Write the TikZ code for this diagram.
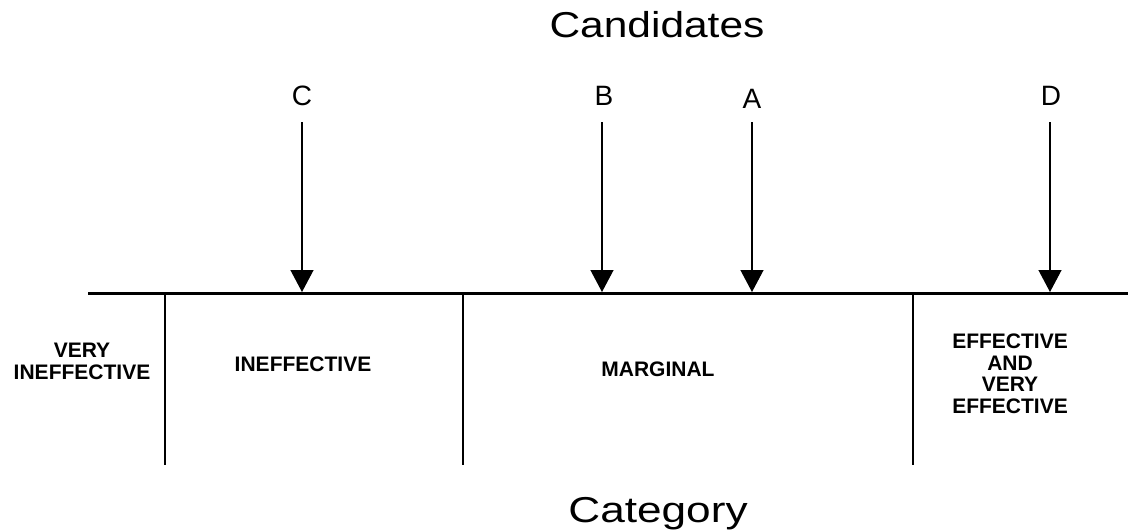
\documentclass[tikz,border=0pt]{standalone}
\usepackage{fontspec}
\setmainfont{Liberation Sans}
\usetikzlibrary{arrows.meta}
\begin{document}
\begin{tikzpicture}[x=1pt,y=-1pt,
  title/.style={inner sep=0pt,anchor=base,font=\fontsize{36}{40}\selectfont,xscale=1.18},
  letter/.style={inner sep=0pt,anchor=base,font=\fontsize{28}{30}\selectfont},
  cat/.style={inner sep=0pt,anchor=base,align=center,font=\bfseries\fontsize{21}{21.5}\selectfont},
  axis/.style={line width=3pt},
  divider/.style={line width=1.3pt},
  pointer/.style={line width=1.3pt,-{Triangle[width=23pt,length=22pt]}}]
\useasboundingbox (0,0) rectangle (1128,531);
% titles
\node[title] (cand) at (657,37) {Candidates};
\node[title,xscale=1.04] (categ) at (658,522) {Category};
% axis
\coordinate (axL) at (88,293);
\coordinate (axR) at (1128,293);
\draw[axis] (axL) -- (axR);
% dividers
\foreach \n/\x in {d1/165,d2/463,d3/913}{
  \coordinate (\n t) at (\x,293);
  \coordinate (\n b) at (\x,465);
  \draw[divider] (\n t) -- (\n b);
}
% candidate labels
\node[letter] (lC) at (302,105) {C};
\node[letter] (lB) at (604,105) {B};
\node[letter] (lA) at (752,108) {A};
\node[letter] (lD) at (1051,105) {D};
% arrows
\foreach \n/\x in {C/302,B/602,A/752,D/1050}{
  \coordinate (s\n) at (\x,122);
  \coordinate (e\n) at (\x,292);
  \draw[pointer] (s\n) -- (e\n);
}
% categories (base anchor = last line's baseline)
\node[cat] (vi) at (82,379) {VERY\\INEFFECTIVE};
\node[cat] (ine) at (303,371) {INEFFECTIVE};
\node[cat] (mar) at (658,376) {MARGINAL};
\node[cat] (eff) at (1010,413) {EFFECTIVE\\AND\\VERY\\EFFECTIVE};
\end{tikzpicture}
\end{document}
